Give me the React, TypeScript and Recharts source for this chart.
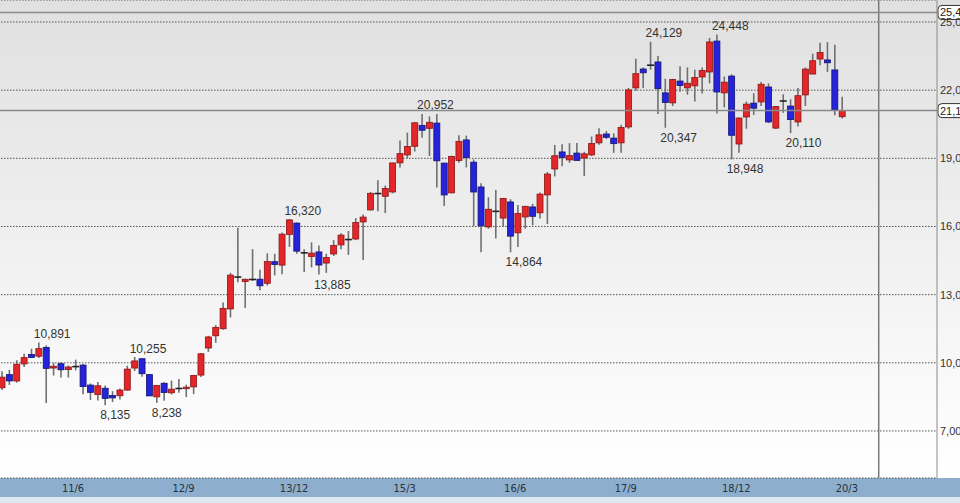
import React from 'react';
import { ComposedChart, Bar, XAxis, YAxis, CartesianGrid, ReferenceLine } from 'recharts';

// monthly candles, 2010/9 .. 2020/3
const opens = [
  8900, 9480, 9200, 9950, 10370, 10290, 10680, 9770, 9960, 9700, 9833, 9900,
  9020, 8600, 8880, 8560, 8550, 8800, 9770, 10180, 9480, 8500, 9100, 8680,
  8870, 8860, 8940, 9460, 10650, 11190, 11500, 12370, 13774, 13580, 13668, 13680,
  13500, 14450, 14300, 15650, 16150, 14841, 14680, 14880, 14390, 14790, 15190, 15425,
  15450, 16200, 16730, 17450, 17330, 17520, 18800, 19150, 19530, 20450, 20320, 20550,
  18790, 17480, 18900, 19810, 18830, 17740, 15980, 16666, 16370, 17080, 15720, 16420,
  16860, 16600, 17390, 18530, 19280, 18930, 19230, 19010, 19150, 19680, 20070, 19890,
  19680, 20380, 22100, 22930, 23098, 23240, 21880, 21440, 22400, 22100, 22190, 22580,
  22800, 24160, 21880, 22620, 19630, 20820, 21430, 21480, 22140, 20330, 21522, 21300,
  20600, 21790, 22710, 23370, 23330, 22890, 20830,
];
const highs = [
  9630, 9690, 10115, 10395, 10620, 10891, 10770, 9990, 10020, 9880, 10140, 9950,
  9090, 9150, 9000, 8750, 8870, 9870, 10255, 10190, 9500, 9010, 9140, 9220,
  9290, 9040, 9460, 10430, 11190, 11660, 12650, 13960, 15942, 13700, 15000, 14100,
  14820, 14800, 15730, 16320, 16170, 15000, 15300, 15160, 14800, 15400, 15700, 15800,
  16370, 16530, 17520, 18030, 17800, 18800, 19780, 20130, 20600, 20952, 20850, 20950,
  18800, 19120, 20012, 20000, 18950, 17900, 17290, 17610, 17250, 17200, 16940, 16900,
  17000, 17500, 18400, 19590, 19615, 19670, 19670, 19290, 19960, 20320, 20200, 20100,
  20480, 22100, 23382, 23000, 24129, 23500, 22500, 22500, 23050, 23000, 22900, 23000,
  24300, 24448, 22600, 22700, 20800, 21500, 21860, 22360, 22300, 21300, 21820, 21600,
  22100, 23000, 23608, 24090, 24115, 24000, 21710,
];
const lows = [
  8800, 9030, 9125, 9820, 10220, 10210, 8227, 9440, 9350, 9350, 9670, 8620,
  8360, 8340, 8135, 8270, 8380, 8770, 9640, 9390, 8540, 8238, 8330, 8610,
  8680, 8490, 8620, 9380, 10480, 10880, 11450, 12000, 13550, 12415, 13600, 13190,
  13400, 13850, 13900, 15100, 14800, 13995, 14200, 13885, 13960, 14700, 15000, 14750,
  15400, 14530, 16700, 16670, 16590, 17460, 18600, 19000, 19300, 19900, 19100, 17714,
  16901, 17460, 18800, 18600, 16020, 14865, 15900, 15470, 16000, 14864, 15100, 15900,
  16050, 16350, 16111, 18200, 18650, 18800, 18900, 18224, 19100, 19600, 19850, 19240,
  19250, 20300, 21970, 22100, 22900, 20950, 20347, 21300, 21930, 21800, 21500, 21850,
  22300, 20970, 21240, 18948, 19240, 20300, 20910, 21300, 20550, 20290, 21000, 20110,
  20400, 21300, 22700, 23100, 22800, 20900, 20750,
];
const closes = [
  9369, 9202, 9937, 10228, 10237, 10624, 9755, 9849, 9693, 9816, 9833, 8955,
  8700, 8988, 8434, 8455, 8802, 9723, 10083, 9520, 8543, 9007, 8695, 8840,
  8870, 8928, 9446, 10395, 11138, 11559, 12397, 13860, 13774, 13677, 13668, 13389,
  14455, 14327, 15662, 16291, 14914, 14841, 14827, 14304, 14632, 15162, 15621, 15425,
  16173, 16413, 17459, 17450, 17674, 18797, 19206, 19520, 20563, 20235, 20585, 18890,
  17388, 19083, 19747, 19033, 17518, 16027, 16758, 16666, 17234, 15575, 16569, 16887,
  16449, 17425, 18308, 19114, 19041, 19119, 18909, 19197, 19651, 20033, 19925, 19646,
  20356, 22012, 22725, 22765, 23098, 22068, 21454, 22467, 22201, 22304, 22553, 22865,
  24120, 21920, 22351, 20014, 20773, 21385, 21206, 22259, 20601, 21276, 21522, 20704,
  21756, 22927, 23294, 23657, 23205, 21142, 21100,
];

// 115 months of data plus 12 empty future months
const slotCount = 127;
const monthLabels = Array.from({ length: slotCount }, (_, i) => {
  const m = 8 + i;
  return `${10 + Math.floor(m / 12)}/${(m % 12) + 1}`;
});

const tickLabels = ['11/6', '12/9', '13/12', '15/3', '16/6', '17/9', '18/12', '20/3'];
const yTicks = [7000, 10000, 13000, 16000, 19000, 22000, 25000];
const peakMonths = ['11/2', '12/3', '13/12', '15/6', '18/1', '18/10'];
const troughMonths = ['11/11', '12/6', '14/4', '16/6', '18/3', '18/12', '19/8'];
const upperLine = 25420;
const nowMonth = '20/8';

const data = monthLabels.map((label, i) => ({
  label,
  open: opens[i],
  high: highs[i],
  low: lows[i],
  close: closes[i],
}));
const lastClose = closes[closes.length - 1];

const fmt = (v: number) => v.toLocaleString('en-US');
const FONT = '"Liberation Sans", Arial, Helvetica, sans-serif';

const Candle = (props: any) => {
  const { x, y, width, height, payload } = props;
  if (!payload || payload.open == null) return null;
  const { open, close, high, low, label } = payload;
  const top = Math.min(y, y + height);
  const h = Math.abs(height);
  const ratio = high === low ? 0 : h / (high - low);
  const py = (v: number) => top + (high - v) * ratio;
  const cx = x + width / 2;
  const up = close > open;
  const bodyTop = py(Math.max(open, close));
  const bodyBot = py(Math.min(open, close));
  return (
    <g>
      <line x1={cx} x2={cx} y1={py(high)} y2={py(low)} stroke="#707070" strokeWidth={1.6} />
      {open === close ? (
        <line x1={x - 0.5} x2={x + width + 0.5} y1={bodyTop} y2={bodyTop} stroke="#222" strokeWidth={1.6} />
      ) : (
        <rect
          x={x}
          y={bodyTop}
          width={width}
          height={Math.max(bodyBot - bodyTop, 1.5)}
          fill={up ? '#e2262a' : '#2424dc'}
          stroke={up ? '#8c1515' : '#14146e'}
          strokeWidth={0.8}
        />
      )}
      {peakMonths.includes(label) && (
        <text x={cx - 5} y={py(high) - 4.5} fontSize={12} fill="#333" fontFamily={FONT}>
          {fmt(high)}
        </text>
      )}
      {troughMonths.includes(label) && (
        <text x={cx - 5} y={py(low) + 14} fontSize={12} fill="#333" fontFamily={FONT}>
          {fmt(low)}
        </text>
      )}
    </g>
  );
};

const XTick = (props: any) => {
  const { x, payload } = props;
  return (
    <text x={x + 5} y={492} textAnchor="middle" fontSize={11} fill="#26323e"
      fontFamily='"Liberation Sans Narrow", "DejaVu Sans Condensed", Arial, sans-serif'>
      {payload.value}
    </text>
  );
};

const YTick = (props: any) => {
  const { y, payload } = props;
  return (
    <text x={940} y={y + 4} fontSize={11} fill="#333" fontFamily={FONT}>
      {fmt(payload.value)}
    </text>
  );
};

const boxLabel = (text: string) => (props: any) => {
  const { viewBox } = props;
  const right = viewBox.x + viewBox.width;
  const y = viewBox.y;
  return (
    <g>
      <rect x={right + 1} y={y - 7} width={34} height={14} rx={4} fill="#fff" stroke="#333" strokeWidth={1} />
      <text x={right + 3} y={y + 4} fontSize={11} fill="#222" fontFamily={FONT}>
        {text}
      </text>
    </g>
  );
};

export default function App() {
  return (
    <div style={{ position: 'absolute', left: 0, top: 0, width: 960, height: 503, overflow: 'hidden' }}>
      <div
        style={{
          position: 'absolute', left: 0, top: 0, width: 960, height: 478,
          background: 'linear-gradient(to bottom, #e0e0e0 0%, #eeeeee 45%, #fbfbfb 85%, #ffffff 100%)',
        }}
      />
      <div style={{ position: 'absolute', left: 0, top: 478, width: 960, height: 19, background: '#8eaecd' }} />
      <div style={{ position: 'absolute', left: 0, top: 497, width: 960, height: 6, background: '#dce8f2' }} />
      <div style={{ position: 'absolute', left: 0, top: 0 }}>
        <ComposedChart width={960} height={503} data={data} margin={{ top: 0, right: 0, bottom: 0, left: -2 }}>
          <CartesianGrid vertical={false} strokeDasharray="1.5 1.5" stroke="#555" />
          <XAxis
            dataKey="label"
            height={25}
            interval={0}
            ticks={tickLabels}
            padding={{ left: 0, right: 3 }}
            axisLine={false}
            tickLine={false}
            tick={<XTick />}
          />
          <YAxis
            orientation="right"
            width={23}
            domain={[4930, 25968]}
            ticks={yTicks}
            allowDataOverflow
            axisLine={{ stroke: '#8a8a8a' }}
            tickLine={false}
            tick={<YTick />}
          />
          <ReferenceLine x={nowMonth} stroke="#7a7a7a" strokeWidth={1.5} />
          <ReferenceLine y={upperLine} stroke="#8a8a8a" strokeWidth={1.5} label={boxLabel(fmt(upperLine))} />
          <ReferenceLine y={lastClose} stroke="#8a8a8a" strokeWidth={1.5} label={boxLabel(fmt(lastClose))} />
          <Bar
            dataKey={(d: any) => (d.open == null ? null : [d.low, d.high])}
            barSize={6}
            shape={<Candle />}
            isAnimationActive={false}
          />
        </ComposedChart>
      </div>
    </div>
  );
}
